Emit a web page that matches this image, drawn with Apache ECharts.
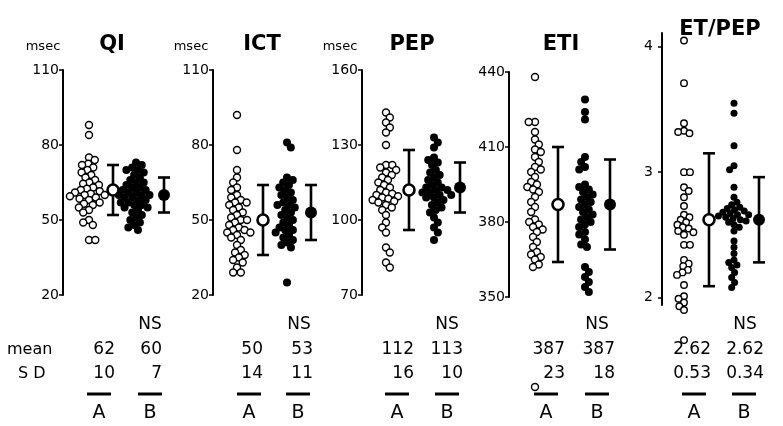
<!DOCTYPE html>
<html><head><meta charset="utf-8">
<script src="https://cdn.jsdelivr.net/npm/echarts@6/dist/echarts.min.js"></script>
<style>html,body{margin:0;padding:0;background:#fff}#c{width:783px;height:426px}</style>
</head><body><div id="c"></div>
<script>
// ---------- data ----------
const titles = ['QI', 'ICT', 'PEP', 'ETI', 'ET/PEP'];
const unitLabels = ['msec', 'msec', 'msec', '', ''];
const yMin = [20, 20, 70, 350, 1.94];
const yMax = [110, 110, 160, 440, 4.11];
const yTicks = [[20, 50, 80, 110], [20, 50, 80, 110], [70, 100, 130, 160], [350, 380, 410, 440], [2, 3, 4]];

const qiA = [88, 84, 75, 74, 72.5, 72, 71, 70, 69, 68, 67, 66, 65, 64.5, 64, 63, 62.5, 62, 61.5, 61, 60.5, 60, 60, 59.5, 59, 58.5, 58, 57, 56.5, 56, 55, 54, 53, 50, 49, 48, 42, 42];
const qiB = [73, 72, 71, 70, 70, 69, 68, 67, 66, 65, 65, 64, 63, 63, 62, 62, 61, 61, 60, 60, 60, 59, 59, 58, 58, 57, 57, 56, 56, 55, 55, 54, 53, 52, 51, 50, 49, 48, 47, 46];
const ictA = [92, 78, 70, 67, 65, 63, 62, 60, 59, 58, 57, 57, 56, 55, 54, 53, 52, 51, 50, 50, 49, 48, 47, 46, 46, 45, 45, 44, 43, 42, 40, 38, 37, 36, 35, 34, 33, 31, 29, 29];
const ictB = [81, 79, 67, 66, 65, 64, 63, 62, 61, 60, 59, 58, 57, 56, 56, 55, 54, 53, 52, 51, 50, 49, 48, 47, 46, 46, 45, 44, 43, 42, 41, 40, 39, 25];
const pepA = [143, 141, 139, 137, 135, 130, 122, 122, 121, 120, 119, 118, 117, 116, 115, 114, 113, 112, 111, 110.5, 110, 109.5, 109, 108.5, 108, 107.5, 107, 106, 105, 104, 102, 99, 97, 95, 89, 87, 83, 81];
const pepB = [133, 131, 129, 125, 124, 123, 122, 120, 119, 118, 117, 116, 115, 114, 113, 113, 112, 112, 111, 111, 110, 110, 109, 109, 108, 107, 106, 105, 104, 103, 101, 99, 97, 95, 92];
const etiA = [438, 420, 420, 416, 413, 411, 409, 408, 406, 404, 402, 401, 400, 398, 396, 395, 394, 393, 392, 390, 388, 386, 384, 381, 380, 379, 378, 377, 376, 374, 372, 370, 368, 367, 366, 365, 363, 362, 314];
const etiB = [429, 424, 421, 406, 404, 402, 401, 395, 394, 393, 392, 391, 390, 389, 388, 387, 386, 385, 384, 383, 382, 381, 380, 379, 378, 376, 375, 373, 371, 370, 362, 360, 358, 356, 354, 352];
const etpepA = [4.05, 3.71, 3.39, 3.33, 3.32, 3.31, 3.0, 3.0, 2.88, 2.85, 2.80, 2.73, 2.66, 2.64, 2.62, 2.60, 2.58, 2.56, 2.55, 2.53, 2.52, 2.50, 2.42, 2.42, 2.30, 2.27, 2.25, 2.22, 2.20, 2.18, 2.10, 2.01, 1.99, 1.96, 1.93, 1.90, 1.66];
const etpepB = [3.55, 3.47, 3.21, 3.05, 3.02, 2.88, 2.80, 2.76, 2.74, 2.72, 2.71, 2.70, 2.69, 2.68, 2.67, 2.66, 2.66, 2.65, 2.64, 2.63, 2.62, 2.61, 2.60, 2.58, 2.56, 2.53, 2.45, 2.40, 2.35, 2.30, 2.28, 2.26, 2.24, 2.20, 2.16, 2.12, 2.08];

const meanA = [62, 50, 112, 387, 2.62];
const sdA = [10, 14, 16, 23, 0.53];
const meanB = [60, 53, 113, 387, 2.62];
const sdB = [7, 11, 10, 18, 0.34];
const significance = ['NS', 'NS', 'NS', 'NS', 'NS'];
const groupNames = ['A', 'B'];
const rowLabels = ['mean', 'S D'];

const groupsA = [qiA, ictA, pepA, etiA, etpepA];
const groupsB = [qiB, ictB, pepB, etiB, etpepB];

// ---------- layout ----------
const FONT = 'DejaVu Sans';
const W = 115;
const gridLeft = [63, 213, 362, 509, 662];
const gridTop = [70, 70, 70, 72, 33];
const gridHeight = [225, 225, 225, 225, 272];
const offA = [26, 24, 24, 26, 22];   // swarm A centre (px from axis)
const offMA = [50, 50, 47, 49, 47];  // mean A
const offB = [73, 74, 72, 76, 72];   // swarm B centre
const offMB = [101, 98, 98, 101, 97];// mean B
const titleX = [112, 262, 412, 561, 720];
const titleY = [45, 45, 45, 45, 30];
const unitX = [43, 191, 340];
const nsX = [150, 299, 447, 597, 745];
const numRightA = [115, 263, 414, 565, 711];
const numRightB = [162, 313, 463, 615, 764];
const letterA = [99, 249, 397, 546, 694];
const letterB = [150, 298, 447, 597, 744];

function swarm(vals, cx, pxPerUnit, dist) {
  const items = vals.map(v => v).sort((a, b) => b - a);
  const placed = [];
  const out = [];
  let flip = 1;
  for (const v of items) {
    const y = v * pxPerUnit;
    const nb = placed.filter(q => Math.abs(q.y - y) < dist);
    const cands = [0];
    nb.forEach(q => {
      const dx = Math.sqrt(dist * dist - (q.y - y) * (q.y - y));
      cands.push(q.x + dx, q.x - dx);
    });
    cands.sort((a, b) => Math.abs(a) - Math.abs(b) || flip * (a - b));
    flip = -flip;
    let x = 0;
    for (const c of cands) {
      if (nb.every(q => (q.x - c) * (q.x - c) + (q.y - y) * (q.y - y) >= dist * dist - 1e-6)) { x = c; break; }
    }
    placed.push({ x, y });
    out.push([cx + x, v]);
  }
  return out;
}

const grids = [], xAxes = [], yAxes = [], series = [], graphics = [];

function errRender(params, api) {
  const x = api.value(0), m = api.value(1), s = api.value(2);
  const t = api.coord([x, m + s]);
  const b = api.coord([x, m - s]);
  const st = { stroke: '#000', lineWidth: 2.6 };
  return {
    type: 'group', children: [
      { type: 'line', shape: { x1: t[0], y1: t[1], x2: b[0], y2: b[1] }, style: st },
      { type: 'line', shape: { x1: t[0] - 6, y1: t[1], x2: t[0] + 6, y2: t[1] }, style: st },
      { type: 'line', shape: { x1: b[0] - 6, y1: b[1], x2: b[0] + 6, y2: b[1] }, style: st }
    ]
  };
}

for (let i = 0; i < 5; i++) {
  grids.push({ left: gridLeft[i], top: gridTop[i], width: W, height: gridHeight[i] });
  xAxes.push({ gridIndex: i, type: 'value', min: 0, max: W, show: false });
  yAxes.push({
    gridIndex: i, type: 'value', min: yMin[i], max: yMax[i],
    axisLine: { show: true, lineStyle: { color: '#000', width: 2 } },
    axisTick: { show: true, length: 4, lineStyle: { color: '#000', width: 1.5 }, customValues: yTicks[i] },
    axisLabel: { customValues: yTicks[i], color: '#000', fontSize: 14, fontFamily: FONT, margin: i === 4 ? 9 : 4 },
    splitLine: { show: false }
  });
  const ppu = gridHeight[i] / (yMax[i] - yMin[i]);
  const small = i === 4;
  series.push({
    type: 'scatter', xAxisIndex: i, yAxisIndex: i, clip: false,
    symbol: 'circle', symbolSize: small ? 6.5 : 7,
    itemStyle: { color: '#fff', borderColor: '#000', borderWidth: 1.4, opacity: 1 },
    data: swarm(groupsA[i], offA[i], ppu, small ? 6.0 : 6.3), z: 3
  });
  series.push({
    type: 'scatter', xAxisIndex: i, yAxisIndex: i, clip: false,
    symbol: 'circle', symbolSize: small ? 7 : 8,
    itemStyle: { color: '#000', opacity: 1 },
    data: swarm(groupsB[i], offB[i], ppu, small ? 5.8 : 6.3), z: 3
  });
  series.push({
    type: 'custom', xAxisIndex: i, yAxisIndex: i, renderItem: errRender, z: 4,
    data: [[offMA[i], meanA[i], sdA[i]], [offMB[i], meanB[i], sdB[i]]]
  });
  series.push({
    type: 'scatter', xAxisIndex: i, yAxisIndex: i, symbol: 'circle', symbolSize: 11, z: 5,
    itemStyle: { color: '#fff', borderColor: '#000', borderWidth: 2.6, opacity: 1 },
    data: [[offMA[i], meanA[i]]]
  });
  series.push({
    type: 'scatter', xAxisIndex: i, yAxisIndex: i, symbol: 'circle', symbolSize: 12, z: 5,
    itemStyle: { color: '#000', opacity: 1 },
    data: [[offMB[i], meanB[i]]]
  });

  // texts
  graphics.push({ type: 'text', x: titleX[i], y: titleY[i], style: { text: titles[i], font: 'bold 21px ' + FONT, fill: '#000', textAlign: 'center', textVerticalAlign: 'middle' } });
  if (unitLabels[i]) graphics.push({ type: 'text', x: unitX[i], y: 47, style: { text: unitLabels[i], font: '13px ' + FONT, fill: '#000', textAlign: 'center', textVerticalAlign: 'middle' } });
  graphics.push({ type: 'text', x: nsX[i], y: 325, style: { text: significance[i], font: '17px ' + FONT, fill: '#000', textAlign: 'center', textVerticalAlign: 'middle' } });
  graphics.push({ type: 'text', x: numRightA[i], y: 350, style: { text: String(meanA[i]), font: '17px ' + FONT, fill: '#000', textAlign: 'right', textVerticalAlign: 'middle' } });
  graphics.push({ type: 'text', x: numRightB[i], y: 350, style: { text: String(meanB[i]), font: '17px ' + FONT, fill: '#000', textAlign: 'right', textVerticalAlign: 'middle' } });
  graphics.push({ type: 'text', x: numRightA[i], y: 374, style: { text: String(sdA[i]), font: '17px ' + FONT, fill: '#000', textAlign: 'right', textVerticalAlign: 'middle' } });
  graphics.push({ type: 'text', x: numRightB[i], y: 374, style: { text: String(sdB[i]), font: '17px ' + FONT, fill: '#000', textAlign: 'right', textVerticalAlign: 'middle' } });
  [letterA[i], letterB[i]].forEach((cx, k) => {
    graphics.push({ type: 'rect', shape: { x: cx - 12, y: 392.5, width: 24, height: 3 }, style: { fill: '#000' } });
    graphics.push({ type: 'text', x: cx, y: 413, style: { text: groupNames[k], font: '19px ' + FONT, fill: '#000', textAlign: 'center', textVerticalAlign: 'middle' } });
  });
}
graphics.push({ type: 'text', x: 7, y: 350, style: { text: rowLabels[0], font: '16px ' + FONT, fill: '#000', textAlign: 'left', textVerticalAlign: 'middle' } });
graphics.push({ type: 'text', x: 18, y: 374, style: { text: rowLabels[1], font: '16px ' + FONT, fill: '#000', textAlign: 'left', textVerticalAlign: 'middle' } });

const chart = echarts.init(document.getElementById('c'), null, { renderer: 'canvas' });
chart.setOption({
  backgroundColor: '#fff',
  animation: false,
  grid: grids, xAxis: xAxes, yAxis: yAxes, series: series, graphic: graphics
});
</script></body></html>
